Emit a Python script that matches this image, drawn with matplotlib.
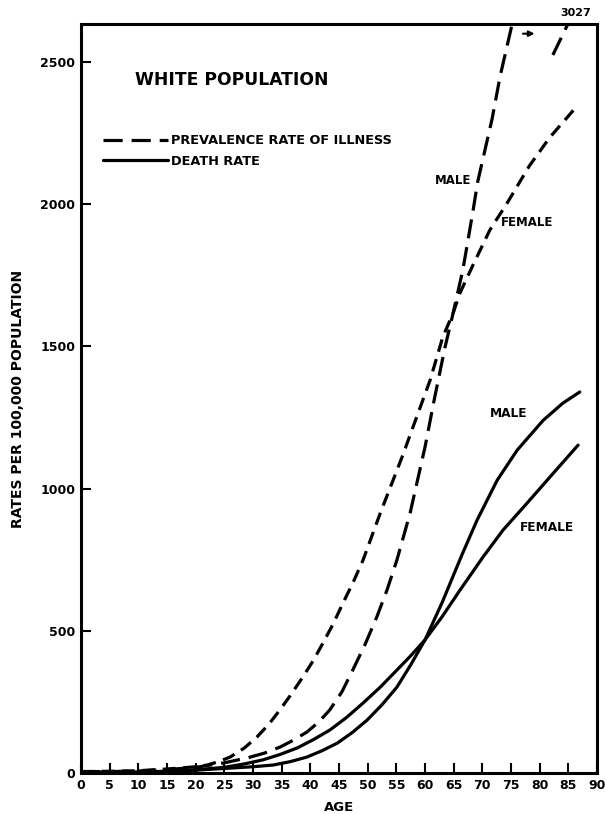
import numpy as np
import matplotlib
matplotlib.use("Agg")
import matplotlib.pyplot as plt

# prevalence rate of illness (per 100,000)
ill_male_age = [0, 5, 10, 15, 20, 24.8, 29.0, 32.0, 34.7, 37.0, 39.4, 41.5, 43.4, 45.5, 47.4,
                49.5, 51.6, 53.4, 55.1, 57.4, 60.0, 61.7, 63.5, 64.9, 66.6, 67.5, 68.4,
                69.2, 71.7, 73.1, 75.2, 76.5]
ill_male = [5, 5, 7, 12, 20, 35, 53, 70, 91, 115, 144, 180, 222, 285, 362,
            450, 549, 645, 749, 914, 1146, 1322, 1498, 1617, 1769, 1874, 1980,
            2080, 2300, 2450, 2634, 2760]
# the part of the male curve running off the top towards 3027
ill_male_top_age = [82.3, 85.0, 85.6]
ill_male_top = [2525, 2637, 2665]

ill_female_age = [0, 5, 10, 15, 20, 22.0, 24.0, 26.0, 28.5, 30.7, 32.7, 34.7, 36.7, 38.7, 40.5,
                  42.2, 44.0, 45.7, 47.5, 49.2, 52.2, 56.0, 58.8, 60.9, 63.1, 64.9, 66.1,
                  68.2, 71.3, 74.5, 78.2, 81.8, 86.2]
ill_female = [5, 6, 8, 14, 22, 28, 40, 56, 88, 127, 170, 222, 278, 338, 395,
              457, 525, 598, 672, 749, 914, 1111, 1266, 1382, 1533, 1617, 1688,
              1779, 1909, 2010, 2135, 2236, 2338]

# death rates
death_male_age = [0, 5, 10, 15, 20, 25, 30, 33.5, 36.5, 39.4, 42.0, 44.7, 47.3, 49.9, 52.5,
                  55.1, 57.5, 60.0, 63.0, 66.5, 69.1, 72.6, 76.1, 80.6, 84.0, 87.0]
death_male = [3, 2, 3, 6, 10, 16, 22, 28, 40, 56, 78, 105, 142, 186, 240,
              302, 380, 468, 600, 770, 890, 1030, 1136, 1240, 1300, 1340]
death_female_age = [0, 5, 10, 15, 20, 25, 28.5, 31.7, 34.7, 37.7, 40.5, 43.4, 46.3, 49.2, 52.2,
                    55.1, 57.5, 60.0, 63.0, 66.1, 70.1, 73.6, 77.8, 81.8, 86.7]
death_female = [3, 2, 3, 6, 11, 20, 32, 46, 65, 88, 117, 151, 195, 246, 302,
                362, 412, 468, 550, 643, 759, 854, 949, 1041, 1153]

xticks = list(range(0, 91, 5))
yticks = [0, 500, 1000, 1500, 2000, 2500]

fig = plt.figure(figsize=(6.05, 8.14), dpi=100)
ax = fig.add_axes([81/605, 1-773/814, 516/605, 749/814])

lw = 2.3
l1, = ax.plot(ill_male_age, ill_male, color="black", lw=lw, dashes=(6, 2.8),
              label="PREVALENCE RATE OF ILLNESS")
ax.plot(ill_male_top_age, ill_male_top, color="black", lw=lw, dashes=(6, 2.8))
ax.plot(ill_female_age, ill_female, color="black", lw=lw, dashes=(4, 2.4))
l2, = ax.plot(death_male_age, death_male, color="black", lw=lw, label="DEATH RATE",
              solid_capstyle="round")
ax.plot(death_female_age, death_female, color="black", lw=lw, solid_capstyle="round")

ax.set_xlim(0, 90)
ax.set_ylim(0, 2634)
ax.set_xticks(xticks)
ax.set_yticks(yticks)
ax.tick_params(direction="in", length=7, width=1.5, labelsize=9, pad=4)
for lab in ax.get_xticklabels() + ax.get_yticklabels():
    lab.set_fontweight("bold")
for s in ax.spines.values():
    s.set_linewidth(2.2)

ax.set_xlabel("AGE", fontsize=9.5, fontweight="bold", labelpad=7)
ax.set_ylabel("RATES PER 100,000 POPULATION", fontsize=10, fontweight="bold", labelpad=11)

ax.text(9.5, 2437, "WHITE POPULATION", fontsize=12.3, fontweight="bold", va="center")
ax.legend(handles=[l1, l2], loc="upper left", bbox_to_anchor=(0.02, 0.868), frameon=False,
          prop={"weight": "bold", "size": 9.3}, handlelength=5.0, handletextpad=0.3,
          labelspacing=0.55)

ax.text(68.0, 2085, "MALE", fontsize=8.5, fontweight="bold", ha="right", va="center")
ax.text(73.3, 1937, "FEMALE", fontsize=8.5, fontweight="bold", va="center")
ax.text(71.3, 1266, "MALE", fontsize=8.7, fontweight="bold", va="center")
ax.text(76.5, 865, "FEMALE", fontsize=8.7, fontweight="bold", va="center")
ax.text(86.2, 2672, "3027", fontsize=8, fontweight="bold", ha="center", va="center",
        clip_on=False)
ax.annotate("", xy=(79.6, 2600), xytext=(76.6, 2600),
            arrowprops=dict(arrowstyle="-|>", color="black", lw=1.5, mutation_scale=8))

fig.savefig("out.png", dpi=100)
